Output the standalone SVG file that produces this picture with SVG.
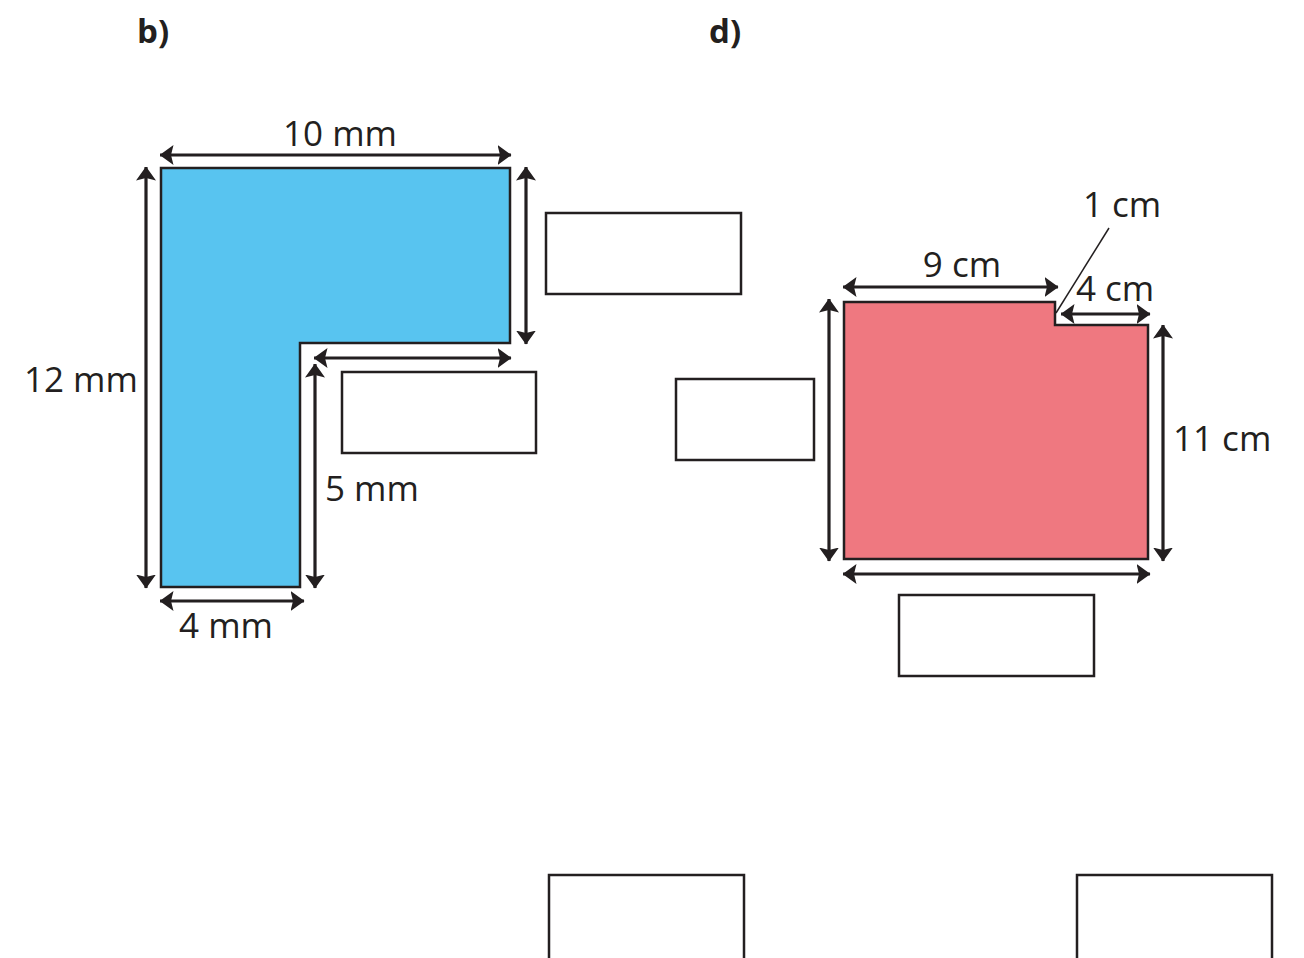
<svg xmlns="http://www.w3.org/2000/svg" width="1304" height="958" viewBox="0 0 1304 958">
<defs>
<marker id="ah" viewBox="0 0 14 20" refX="13.5" refY="10" markerWidth="14" markerHeight="20" markerUnits="userSpaceOnUse" orient="auto-start-reverse">
<path d="M0,0 L14,10 L0,20 L2.5,10 Z" fill="#231f20"/>
</marker>
<style>
.lbl{font-family:"Open Sans","Noto Sans",sans-serif;font-size:35px;fill:#231f20}
.hd{font-family:"Open Sans","Noto Sans",sans-serif;font-size:33px;font-weight:bold;fill:#231f20}
.dim{stroke:#231f20;stroke-width:3.2;fill:none;marker-start:url(#ah);marker-end:url(#ah)}
.box{fill:#fff;stroke:#231f20;stroke-width:2.5}
.shape{stroke:#231f20;stroke-width:2.5}
</style>
</defs>
<rect width="1304" height="958" fill="#fff"/>
<text class="hd" x="137" y="43">b)</text>
<text class="hd" x="709" y="43">d)</text>
<g id="shapeB"><path class="shape" fill="#58c4f0" d="M161,168 H510 V343 H300 V587 H161 Z"/></g>
<g id="shapeD"><path class="shape" fill="#ef7880" d="M844,302 H1055 V325 H1148 V559 H844 Z"/></g>
<g id="connectors">
<line class="dim" x1="160" y1="155" x2="511" y2="155"/>
<line class="dim" x1="146" y1="167" x2="146" y2="588"/>
<line class="dim" x1="526" y1="167" x2="526" y2="344"/>
<line class="dim" x1="314" y1="358" x2="511" y2="358"/>
<line class="dim" x1="315" y1="364" x2="315" y2="588"/>
<line class="dim" x1="160" y1="601" x2="304" y2="601"/>
<line class="dim" x1="843" y1="287" x2="1058" y2="287"/>
<line class="dim" x1="1061" y1="314" x2="1150" y2="314"/>
<line class="dim" x1="829" y1="299" x2="829" y2="561"/>
<line class="dim" x1="1163" y1="325" x2="1163" y2="561"/>
<line class="dim" x1="843" y1="574" x2="1150" y2="574"/>
<line x1="1109" y1="228" x2="1056" y2="313" stroke="#231f20" stroke-width="1.5"/>
</g>
<g id="labels">
<text class="lbl" x="340" y="146" text-anchor="middle">10 mm</text>
<text class="lbl" x="24" y="392">12 mm</text>
<text class="lbl" x="325" y="501">5 mm</text>
<text class="lbl" x="226" y="638" text-anchor="middle">4 mm</text>
<text class="lbl" x="962" y="277" text-anchor="middle">9 cm</text>
<text class="lbl" x="1083" y="217">1 cm</text>
<text class="lbl" x="1076" y="301">4 cm</text>
<text class="lbl" x="1173" y="451">11 cm</text>
</g>
<g id="box1"><rect class="box" x="546" y="213" width="195" height="81"/></g>
<g id="box2"><rect class="box" x="342" y="372" width="194" height="81"/></g>
<g id="box3"><rect class="box" x="676" y="379" width="138" height="81"/></g>
<g id="box4"><rect class="box" x="899" y="595" width="195" height="81"/></g>
<g id="box5"><rect class="box" x="549" y="875" width="195" height="90"/></g>
<g id="box6"><rect class="box" x="1077" y="875" width="195" height="90"/></g>
</svg>
